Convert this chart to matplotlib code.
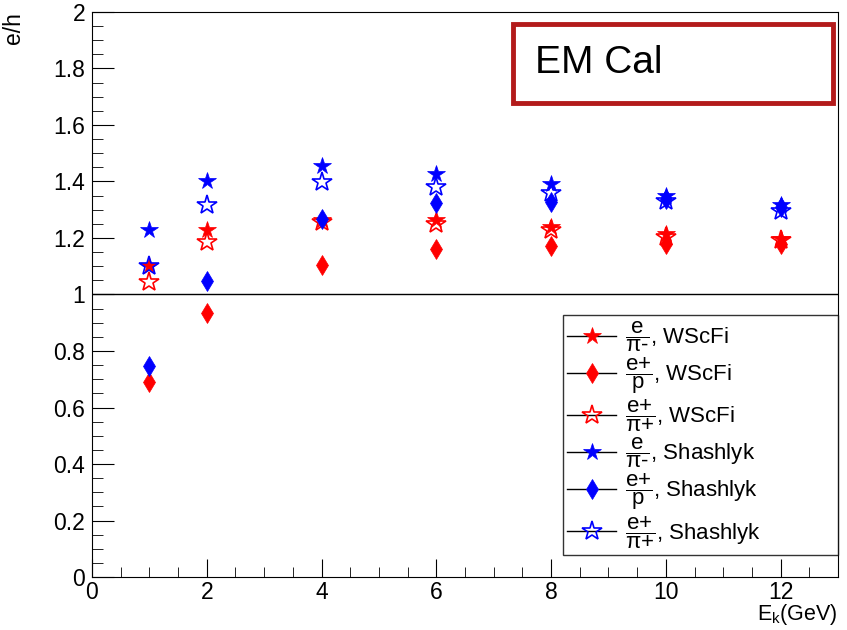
import matplotlib.pyplot as plt
from matplotlib.ticker import MultipleLocator
from matplotlib.patches import Rectangle

plt.rcParams['font.family'] = ['Liberation Sans', 'DejaVu Sans']
plt.rcParams['mathtext.fontset'] = 'custom'
plt.rcParams['mathtext.rm'] = 'Liberation Sans'
plt.rcParams['mathtext.it'] = 'Liberation Sans'

energy = [1, 2, 4, 6, 8, 10, 12]

# WScFi
wscfi_e_pim = [1.10, 1.23, 1.265, 1.262, 1.238, 1.213, 1.195]
wscfi_ep_p = [0.69, 0.935, 1.105, 1.16, 1.17, 1.178, 1.178]
wscfi_ep_pip = [1.045, 1.187, 1.258, 1.25, 1.228, 1.205, 1.192]
# Shashlyk
shash_e_pim = [1.228, 1.40, 1.455, 1.428, 1.39, 1.349, 1.317]
shash_ep_p = [0.747, 1.048, 1.266, 1.323, 1.329, 1.337, 1.311]
shash_ep_pip = [1.10, 1.317, 1.397, 1.382, 1.36, 1.332, 1.297]

labels = [r'$\dfrac{\mathrm{e}}{\pi\mathrm{‐}}$, WScFi',
          r'$\dfrac{\mathrm{e{+}}}{\mathrm{p}}$, WScFi',
          r'$\dfrac{\mathrm{e{+}}}{\pi{+}}$, WScFi',
          r'$\dfrac{\mathrm{e}}{\pi\mathrm{‐}}$, Shashlyk',
          r'$\dfrac{\mathrm{e{+}}}{\mathrm{p}}$, Shashlyk',
          r'$\dfrac{\mathrm{e{+}}}{\pi{+}}$, Shashlyk']

fig = plt.figure(figsize=(8.47, 6.30), dpi=100)
ax = fig.add_axes([0.1086, 0.0841, 0.8808, 0.8969])

series = [
    (wscfi_e_pim, 'red', '*', 'red', 13),
    (wscfi_ep_p, 'red', 'd', 'red', 10),
    (wscfi_ep_pip, 'red', '*', 'none', 15),
    (shash_e_pim, 'blue', '*', 'blue', 13),
    (shash_ep_p, 'blue', 'd', 'blue', 10),
    (shash_ep_pip, 'blue', '*', 'none', 15),
]
for (vals, col, mk, fc, ms), lab in zip(series, labels):
    ax.plot(energy, vals, linestyle='none', marker=mk, color=col,
            markerfacecolor=fc, markeredgecolor=col, markersize=ms,
            markeredgewidth=1.2 if fc == 'none' else 0.5, label=lab)

ax.axhline(1.0, color='black', linewidth=1)

ax.set_xlim(0, 13)
ax.set_ylim(0, 2)
ax.xaxis.set_major_locator(MultipleLocator(2))
ax.xaxis.set_minor_locator(MultipleLocator(0.5))
ax.yaxis.set_major_locator(MultipleLocator(0.2))
ax.yaxis.set_minor_locator(MultipleLocator(0.05))
ax.yaxis.set_major_formatter(plt.FuncFormatter(lambda v, p: f'{v:g}'))
ax.tick_params(which='both', direction='in', labelsize=16.5, top=False, right=False)
ax.tick_params(axis='y', which='major', length=16, pad=5)
ax.tick_params(axis='y', which='minor', length=8)
ax.tick_params(axis='x', which='major', length=13)
ax.tick_params(axis='x', which='minor', length=7)
ax.tick_params(axis='x', pad=3)

# x title sits at the bottom-right corner, under the tick labels
fig.text(0.989, 0.004, r'E$_\mathrm{k}$(GeV)', fontsize=15.5, ha='right', va='bottom')
ax.set_ylabel('e/h', fontsize=16.5, loc='top', labelpad=20)

ax.add_patch(Rectangle((0.564, 0.839), 0.429, 0.14, transform=ax.transAxes,
                       fill=False, edgecolor='#b31b1b', linewidth=3.5))
ax.text(0.594, 0.909, 'EM Cal', transform=ax.transAxes, fontsize=28,
        va='center', ha='left')

leg = ax.legend(loc='lower left', bbox_to_anchor=(0.631, 0.039, 0.369, 0.437),
                mode='expand', fontsize=16,
                frameon=True, fancybox=False, edgecolor='black',
                borderpad=0.2, labelspacing=0.05, handlelength=2.2,
                handletextpad=0.4, borderaxespad=0)
leg.get_frame().set_linewidth(1)
for h, (vals, col, mk, fc, ms) in zip(leg.legend_handles, series):
    h.set_linestyle('-')
    h.set_linewidth(1)
    h.set_color('black')
    h.set_markerfacecolor(fc)
    h.set_markeredgecolor(col)

fig.savefig('out.png', dpi=100)
